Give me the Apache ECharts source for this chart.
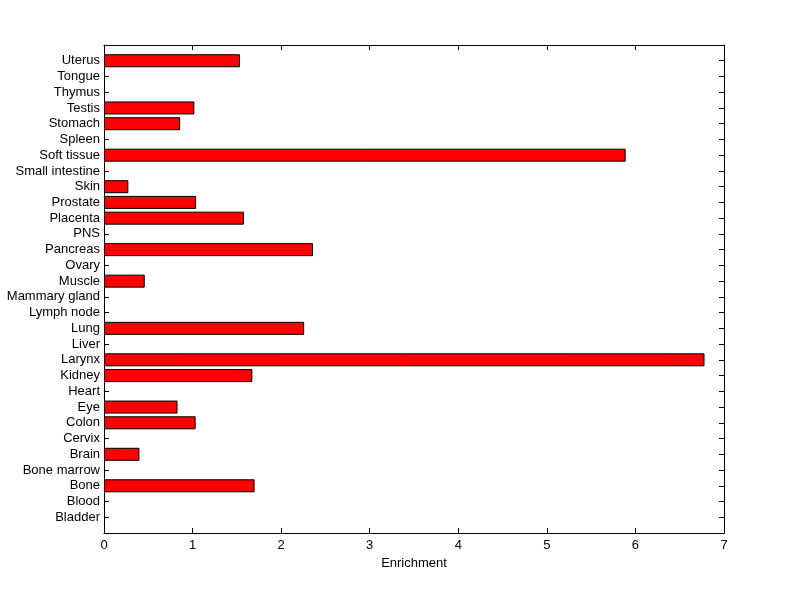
<!DOCTYPE html>
<html>
<head>
<meta charset="utf-8">
<script src="https://cdn.jsdelivr.net/npm/echarts@6/dist/echarts.min.js"></script>
<style>
  html, body { margin: 0; padding: 0; background: #fff; }
  #chart { width: 800px; height: 599px; }
</style>
</head>
<body>
<div id="chart"></div>
<script>
// tissues, bottom to top
var tissues = ['Bladder', 'Blood', 'Bone', 'Bone marrow', 'Brain', 'Cervix', 'Colon', 'Eye', 'Heart',
  'Kidney', 'Larynx', 'Liver', 'Lung', 'Lymph node', 'Mammary gland', 'Muscle', 'Ovary', 'Pancreas',
  'PNS', 'Placenta', 'Prostate', 'Skin', 'Small intestine', 'Soft tissue', 'Spleen', 'Stomach',
  'Testis', 'Thymus', 'Tongue', 'Uterus'];
var enrichment = [0, 0, 1.70, 0, 0.40, 0, 1.035, 0.83, 0,
  1.675, 6.78, 0, 2.26, 0, 0, 0.46, 0, 2.36,
  0, 1.58, 1.04, 0.275, 0, 5.89, 0, 0.86,
  1.02, 0, 0, 1.535];
var xTicks = [0, 1, 2, 3, 4, 5, 6, 7];

// the y range runs one slot past the first and last tissue (matlab style ylim 0..31)
var yCats = [''].concat(tissues, ['']);
var barData = ['-'].concat(enrichment.map(function (v) { return v || '-'; }), ['-']);

var chart = echarts.init(document.getElementById('chart'));
var font = 'Liberation Sans, Arial, sans-serif';
var axisLine = { show: true, onZero: false, lineStyle: { color: '#000', width: 1 } };
var tick = { show: true, inside: true, length: 5, interval: 0, lineStyle: { color: '#000', width: 1 } };

chart.setOption({
  animation: false,
  grid: { left: 104, right: 76, top: 45, bottom: 66 },
  xAxis: [{
    type: 'value',
    min: xTicks[0],
    max: xTicks[xTicks.length - 1],
    interval: 1,
    name: 'Enrichment',
    nameLocation: 'middle',
    nameGap: 24,
    nameTextStyle: { color: '#000', fontSize: 13, fontFamily: font },
    axisLine: axisLine,
    axisTick: tick,
    axisLabel: { color: '#000', fontSize: 13, fontFamily: font, margin: 6 },
    splitLine: { show: false }
  }, {
    type: 'value',
    position: 'top',
    min: xTicks[0],
    max: xTicks[xTicks.length - 1],
    interval: 1,
    axisLine: axisLine,
    axisTick: tick,
    axisLabel: { show: false },
    splitLine: { show: false }
  }],
  yAxis: [{
    type: 'category',
    position: 'left',
    data: yCats,
    boundaryGap: false,
    axisLine: axisLine,
    axisTick: tick,
    axisLabel: { color: '#000', fontSize: 13, fontFamily: font, margin: 4, interval: 0 },
    splitLine: { show: false }
  }, {
    type: 'category',
    position: 'right',
    data: yCats,
    boundaryGap: false,
    axisLine: axisLine,
    axisTick: tick,
    axisLabel: { show: false },
    splitLine: { show: false }
  }],
  series: [{
    type: 'bar',
    data: barData,
    barWidth: 13,
    itemStyle: { color: '#ff0000', borderColor: '#000', borderWidth: 1 }
  }]
});
</script>
</body>
</html>
